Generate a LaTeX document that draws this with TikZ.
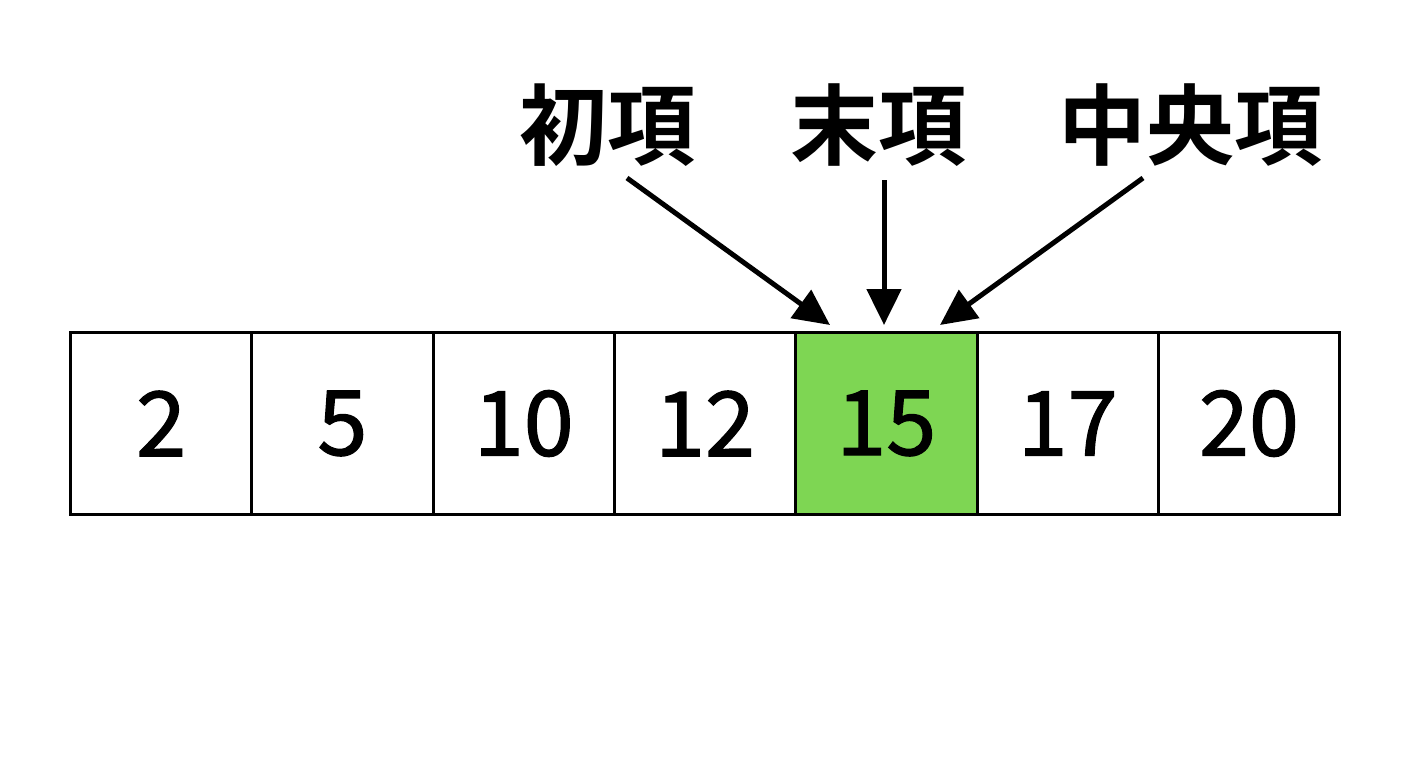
\documentclass[tikz,border=0pt]{standalone}
\usepackage{fontspec}
\newfontfamily\cjk[FakeBold=1.4]{Noto Sans CJK JP}
\newfontfamily\cjkb{Noto Sans CJK JP Bold}
\usetikzlibrary{arrows.meta}
\definecolor{hl}{HTML}{7ED653}
\begin{document}
\begin{tikzpicture}[x=1pt,y=-1pt,
  cell/.style={draw=black,line width=3pt,minimum width=181.3pt,minimum height=182pt,inner sep=0pt,anchor=north west,font=\cjk\fontsize{90}{90}\selectfont},
  lab/.style={font=\cjkb\fontsize{88}{88}\selectfont,inner sep=0pt},
  arr/.style={line width=5pt,-{Triangle[length=36pt,width=34pt]}}]
\useasboundingbox (0,0) rectangle (1408,768);
\foreach \v [count=\i] in {2,5,10,12,15,17,20}{
  \pgfmathsetmacro\xx{69+(\i-1)*181.3}
  \ifnum\i=5
    \node[cell,fill=hl] (c\i) at (\xx,331) {\v};
  \else
    \node[cell] (c\i) at (\xx,331) {\v};
  \fi
}
\node[lab] (a) at (607,125) {初項};
\node[lab] (b) at (878,125) {末項};
\node[lab] (m) at (1190,125) {中央項};
\coordinate (a1) at (627,178); \coordinate (a2) at (830,325);
\coordinate (b1) at (884,180); \coordinate (b2) at (884,325);
\coordinate (m1) at (1143,178); \coordinate (m2) at (940,325);
\draw[arr] (a1) -- (a2);
\draw[arr] (b1) -- (b2);
\draw[arr] (m1) -- (m2);
\end{tikzpicture}
\end{document}
